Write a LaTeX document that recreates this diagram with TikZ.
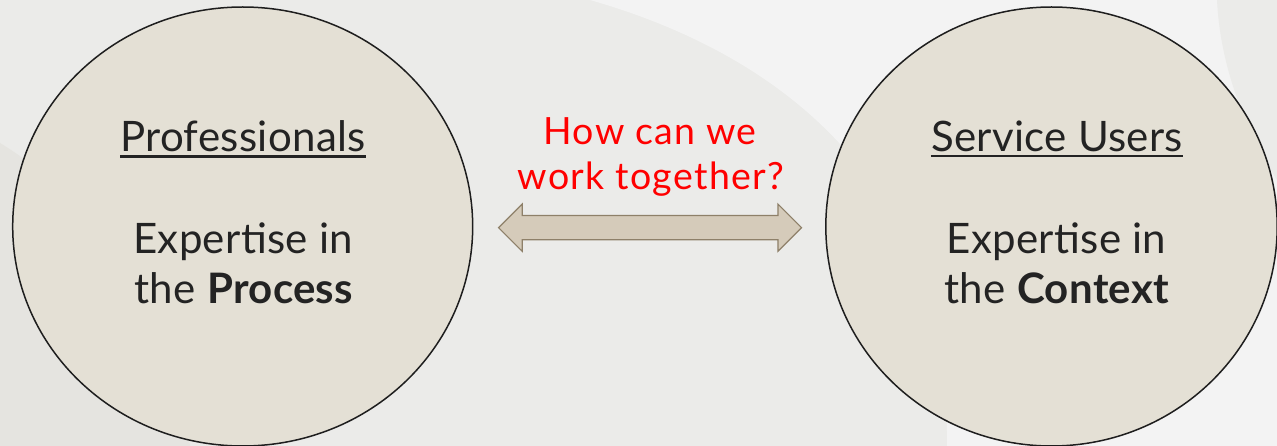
\documentclass[tikz,border=0pt]{standalone}
\usepackage{fontspec}
\setmainfont{Lato}
\newfontfamily\blackfont[LetterSpace=0.8]{Lato}
\newfontfamily\redfont[LetterSpace=3.5]{Lato}
\usetikzlibrary{shapes.geometric,shapes.arrows,calc}
\definecolor{bgbase}{HTML}{EBEBE9}
\definecolor{bglight}{HTML}{F3F3F3}
\definecolor{bgdark}{HTML}{E5E4E0}
\definecolor{bubblefill}{HTML}{E4E0D5}
\definecolor{bubbleedge}{HTML}{1E1E1E}
\definecolor{arrowfill}{HTML}{D5CBBA}
\definecolor{arrowedge}{HTML}{8E8069}
\definecolor{inktext}{HTML}{232323}
\tikzset{
  bubble/.style={ellipse, draw=bubbleedge, fill=bubblefill, line width=1.5pt, inner sep=0pt},
  bigtxt/.style={inner sep=0pt, anchor=base, text=inktext, font=\blackfont\fontsize{42}{50}\selectfont},
  redtxt/.style={inner sep=0pt, anchor=base, text=red, font=\redfont\fontsize{37.5}{45}\selectfont},
  uline/.style={draw=inktext, line width=2.3pt},
  blockarrow/.style={double arrow, draw=arrowedge, fill=arrowfill, line width=1.2pt,
    double arrow head extend=11.5pt, double arrow tip angle=90,
    inner xsep=0pt, inner ysep=11.5pt}
}
\begin{document}
\begin{tikzpicture}[x=1pt,y=-1pt]
\useasboundingbox (0,0) rectangle (1277,446);
% background
\fill[bgbase] (0,0) rectangle (1277,446);
\fill[bglight] (590,0) .. controls (800,60) and (950,200) .. (947,446) -- (1277,446) -- (1277,0) -- cycle;
\fill[bgbase] (1217,0) .. controls (1220,60) and (1240,120) .. (1277,180) -- (1277,0) -- cycle;
\fill[bgdark] (0,143) .. controls (110,210) and (175,330) .. (190,446) -- (0,446) -- cycle;
% circles
\node[bubble, minimum width=460pt, minimum height=439pt] (prof) at (242.7,226.5) {};
\node[bubble, minimum width=451.4pt, minimum height=439pt] (serv) at (1051.5,226.5) {};
% left texts
\node[bigtxt] (profT) at (243,152) {Professionals};
\draw[uline] ([yshift=-4.5pt]profT.base west) -- ([yshift=-4.5pt]profT.base east);
\node[bigtxt] (profA) at (243,253.5) {Expertise in};
\node[bigtxt] (profB) at (244,303.5) {the \textbf{Process}};
% right texts
\node[bigtxt] (servT) at (1057,151.5) {Service Users};
\draw[uline] ([yshift=-4.5pt]servT.base west) -- ([yshift=-4.5pt]servT.base east);
\node[bigtxt] (servA) at (1056.5,254) {Expertise in};
\node[bigtxt] (servB) at (1057,304) {the \textbf{Context}};
% middle
\node[redtxt] (q1) at (650,145) {How can we};
\node[redtxt] (q2) at (651,189.5) {work together?};
\node[blockarrow, minimum height=303pt] (link) at ($(prof.east)!0.5!(serv.west)+(0.8,1.2)$) {};
\end{tikzpicture}
\end{document}
